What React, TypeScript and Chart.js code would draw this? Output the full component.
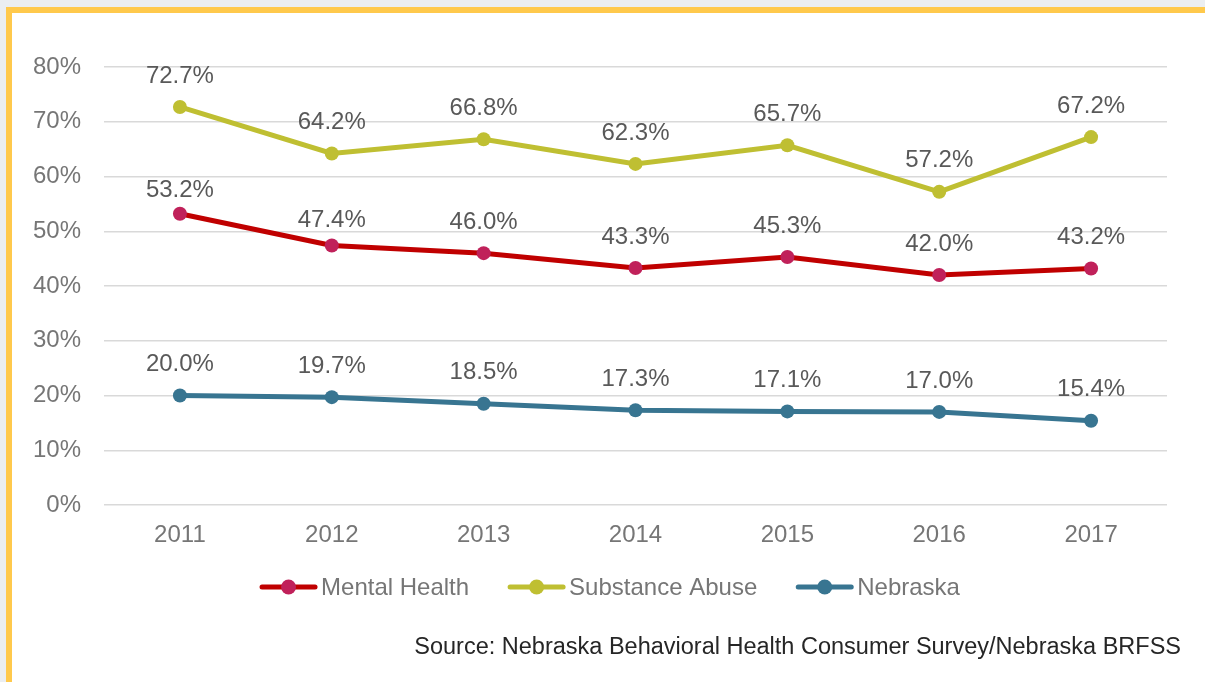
import React, { useEffect, useRef } from "react";
import { Chart, registerables } from "chart.js";

Chart.register(...registerables);

const years = ["2011", "2012", "2013", "2014", "2015", "2016", "2017"];
const mentalHealth = [53.2, 47.4, 46.0, 43.3, 45.3, 42.0, 43.2];
const substanceAbuse = [72.7, 64.2, 66.8, 62.3, 65.7, 57.2, 67.2];
const nebraska = [20.0, 19.7, 18.5, 17.3, 17.1, 17.0, 15.4];
const seriesNames = ["Mental Health", "Substance Abuse", "Nebraska"];
const sourceText = "Source: Nebraska Behavioral Health Consumer Survey/Nebraska BRFSS";

const FONT = "'Liberation Sans', Arial, sans-serif";

const dataLabelPlugin = {
  id: "dataLabels",
  afterDatasetsDraw(chart: any) {
    const ctx = chart.ctx;
    const opts = chart.options.plugins.dataLabels || {};
    const nudges = opts.nudges || {};
    ctx.save();
    ctx.font = `24px ${FONT}`;
    ctx.fillStyle = "#595959";
    ctx.textAlign = "center";
    ctx.textBaseline = "middle";
    chart.data.datasets.forEach((ds: any, di: number) => {
      const meta = chart.getDatasetMeta(di);
      meta.data.forEach((pt: any, i: number) => {
        const v = ds.data[i];
        const n = (nudges[di] && nudges[di][i]) || 0;
        ctx.fillText(v.toFixed(1) + "%", pt.x, pt.y - 31 + n);
      });
    });
    ctx.restore();
  },
};

const legendPlugin = {
  id: "lineLegend",
  afterDraw(chart: any) {
    const ctx = chart.ctx;
    const o = chart.options.plugins.lineLegend || {};
    const y = o.y;
    const lineLen = 57;
    const gapText = 4;
    const gapItem = 39;
    ctx.save();
    ctx.font = `24px ${FONT}`;
    const widths = chart.data.datasets.map((ds: any) => ctx.measureText(ds.label).width);
    let total = 0;
    widths.forEach((w: number, i: number) => {
      total += lineLen + gapText + w + (i < widths.length - 1 ? gapItem : 0);
    });
    let x = o.centerX - total / 2;
    chart.data.datasets.forEach((ds: any, i: number) => {
      ctx.strokeStyle = ds.borderColor;
      ctx.lineWidth = 5;
      ctx.lineCap = "round";
      ctx.beginPath();
      ctx.moveTo(x + 2, y);
      ctx.lineTo(x + lineLen - 2, y);
      ctx.stroke();
      ctx.fillStyle = ds.pointBackgroundColor;
      ctx.beginPath();
      ctx.arc(x + lineLen / 2, y, 7.5, 0, Math.PI * 2);
      ctx.fill();
      ctx.fillStyle = "#767676";
      ctx.textAlign = "left";
      ctx.textBaseline = "middle";
      ctx.fillText(ds.label, x + lineLen + gapText, y + 1);
      x += lineLen + gapText + widths[i] + gapItem;
    });
    ctx.font = `23.5px ${FONT}`;
    ctx.fillStyle = "#262626";
    ctx.textAlign = "right";
    ctx.fillText(o.source, o.sourceRight, o.sourceY);
    ctx.restore();
  },
};

export default function App() {
  const ref = useRef<HTMLCanvasElement | null>(null);

  useEffect(() => {
    if (!ref.current) return;
    const mk = (label: string, data: number[], line: string, point: string) => ({
      label,
      data,
      borderColor: line,
      backgroundColor: point,
      pointBackgroundColor: point,
      pointBorderColor: point,
      pointRadius: 7,
      pointBorderWidth: 0,
      borderWidth: 5,
      tension: 0,
    });
    const chart = new Chart(ref.current, {
      type: "line",
      data: {
        labels: years,
        datasets: [
          mk(seriesNames[0], mentalHealth, "#c00000", "#c0215a"),
          mk(seriesNames[1], substanceAbuse, "#bfbf32", "#bfbf32"),
          mk(seriesNames[2], nebraska, "#387591", "#387591"),
        ],
      },
      options: {
        animation: false,
        responsive: false,
        maintainAspectRatio: false,
        layout: { padding: { left: 0, top: 67, right: 38, bottom: 127 } },
        plugins: {
          legend: { display: false },
          tooltip: { enabled: false },
          dataLabels: { nudges: { 0: { 0: 8, 1: 6 } } },
          lineLegend: { y: 587, centerX: 610, source: sourceText, sourceRight: 1181, sourceY: 648 },
        } as any,
        scales: {
          x: {
            offset: true,
            grid: { display: false, drawTicks: false },
            border: { display: false },
            ticks: { color: "#767676", font: { family: FONT, size: 24 }, padding: 16 },
            afterFit: (s: any) => { s.height = 50; },
          },
          y: {
            min: 0,
            max: 80,
            grid: { color: "#d9d9d9", lineWidth: 1.5, drawTicks: false },
            border: { display: false },
            ticks: {
              stepSize: 10,
              color: "#767676",
              font: { family: FONT, size: 24 },
              padding: 23,
              callback: (v: any) => v + "%",
            },
            afterFit: (s: any) => { s.width = 104; },
          },
        },
      },
      plugins: [dataLabelPlugin, legendPlugin],
    });
    return () => chart.destroy();
  }, []);

  return (
    <div style={{ position: "fixed", left: 0, top: 0, width: 1205, height: 682, background: "#ebeef1", overflow: "hidden" }}>
      <div
        style={{
          position: "absolute",
          left: 6,
          top: 7,
          width: 1300,
          height: 800,
          background: "#ffffff",
          borderLeft: "6px solid #ffc94c",
          borderTop: "6px solid #ffc94c",
        }}
      />
      <canvas ref={ref} width={1205} height={682} style={{ position: "absolute", left: 0, top: 0, width: 1205, height: 682 }} />
    </div>
  );
}
